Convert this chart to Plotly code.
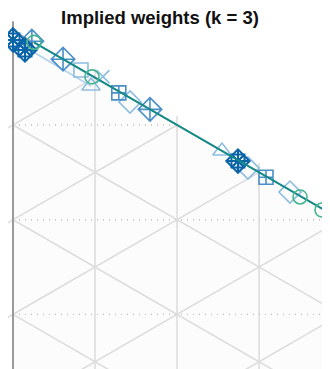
import numpy as np
import plotly.graph_objects as go

# ---------------- data: implied weights (w_b, w_c); w_a = 1 - w_b - w_c ----------------
dark_wc = [0.0, 0.0146, 0.2743]
dark_wb = [0.0102, 0.0135, 0.0009]

med_diamond_wc = [0.023, 0.061, 0.167]
med_diamond_wb = [0.0, 0.0, 0.0]

med_square_wc = [0.129, 0.3085]
med_square_wb = [0.0016, 0.001]

light_square_wc = [0.0829]
light_square_wb = [0.0004]

light_tri_wc = [0.0951, 0.2548]
light_tri_wb = [0.0112, 0.0]

light_x_wc = [0.1097]
light_x_wb = [-0.006]

light_diamond_wc = [0.1427, 0.2865, 0.3377]
light_diamond_wb = [0.0044, 0.0022, 0.002]

circle_wc = [0.0256, 0.0963, 0.350, 0.3768]
circle_wb = [0.0, 0.001, 0.001, 0.0014]

light_line_wc = [0.0, 0.0951]
light_line_wb = [0.0102, 0.0112]

path_wc = [0.0256, 0.42]
path_wb = [0.0, 0.0]

grid_step = 0.1
title_text = "Implied weights (k = 3)"

# ---------------- projection (rotated ternary, vertical left side) ----------------
SQ = np.sqrt(3) / 2


def proj(wb, wc):
    wb = np.asarray(wb, float)
    wc = np.asarray(wc, float)
    return wc * SQ, -wb - 0.5 * wc


PAGE_OFF = 8.0              # browser body margin
PX = 947.0                  # pixels per unit side length
OX, OY = 13.0 - PAGE_OFF, 30.3 - PAGE_OFF  # figure pixel position of top vertex
W, H = 322, 361
TICK = 9.0 / PX

fig = go.Figure()

GRID = "#dddddd"
AXC = "#9a9a9a"


def seg(x0, y0, x1, y1, color, width, dash=None):
    fig.add_trace(go.Scatter(x=[x0, x1], y=[y0, y1], mode="lines",
                             line=dict(color=color, width=width, dash=dash),
                             hoverinfo="skip", showlegend=False))


# triangle background
tx, ty = proj([0, 1, 0, 0], [0, 0, 1, 0])
fig.add_trace(go.Scatter(x=tx, y=ty, mode="lines", fill="toself",
                         fillcolor="#fcfcfc", line=dict(width=0),
                         hoverinfo="skip", showlegend=False))

n = int(round(1 / grid_step))
for k in range(1, n):
    v = k * grid_step
    # constant w_c (vertical lines), with tick above the top edge
    x0, y0 = proj(0, v)
    x1, y1 = proj(1 - v, v)
    seg(float(x0), float(y0) + TICK, float(x1), float(y1), GRID, 1.6)
    # constant w_b (down-right lines)
    x0, y0 = proj(v, 0)
    x1, y1 = proj(v, 1 - v)
    seg(float(x0), float(y0), float(x1), float(y1), GRID, 1.6)
    # constant w_a (up-right lines), with tick beyond the left side
    x0, y0 = proj(v, 0)
    x1, y1 = proj(0, v)
    dx, dy = x0 - x1, y0 - y1
    L = np.hypot(dx, dy)
    seg(float(x0 + dx / L * TICK), float(y0 + dy / L * TICK), float(x1), float(y1), GRID, 1.6)
    # dotted horizontal references
    seg(0.0, -v, float(2 * v * SQ), -v, "#bdbdbd", 1.4, "1px,5px")

# triangle edges
ax0, ay0 = proj(0, 0)
bx0, by0 = proj(1, 0)
cx0, cy0 = proj(0, 1)
seg(float(ax0), float(ay0) + TICK, float(bx0), float(by0), AXC, 2)
seg(float(ax0), float(ay0), float(cx0), float(cy0), "#b0b0b0", 1.5)

DARK = "#0b64a8"
MED = "#4a8fc8"
LIGHT = "#8dbce2"
TEAL = "#138a87"
GREEN = "#45b690"


def markers(wb, wc, symbol, size, color, width=1.6):
    x, y = proj(wb, wc)
    fig.add_trace(go.Scatter(x=x, y=y, mode="markers",
                             marker=dict(symbol=symbol, size=size, color=color,
                                         line=dict(color=color, width=width)),
                             hoverinfo="skip", showlegend=False))


def line(wb, wc, color, width):
    x, y = proj(wb, wc)
    fig.add_trace(go.Scatter(x=x, y=y, mode="lines",
                             line=dict(color=color, width=width),
                             hoverinfo="skip", showlegend=False))


line(light_line_wb, light_line_wc, "#b3d2ec", 1.6)
markers(light_square_wb, light_square_wc, "square-open", 14, LIGHT)
markers(light_tri_wb, light_tri_wc, "triangle-up-open", 16, LIGHT)
markers(light_x_wb, light_x_wc, "x-thin-open", 13, LIGHT)
markers(light_diamond_wb, light_diamond_wc, "diamond-open", 17, LIGHT)
markers(med_square_wb, med_square_wc, "square-cross-open", 14, MED)
markers(med_diamond_wb, med_diamond_wc, "diamond-cross-open", 18, MED)
markers(dark_wb, dark_wc, "square-x-open", 13, DARK, 2)
markers(dark_wb, dark_wc, "diamond-cross-open", 18, DARK, 2)
markers(dark_wb, dark_wc, "asterisk-open", 15, DARK, 1.8)
line(path_wb, path_wc, TEAL, 2)
markers(circle_wb, circle_wc, "circle-open", 14, GREEN)

fig.update_layout(
    width=W, height=H,
    margin=dict(l=0, r=0, t=0, b=0),
    paper_bgcolor="white", plot_bgcolor="white",
    showlegend=False,
    xaxis=dict(visible=False, range=[-OX / PX, (W - OX) / PX], fixedrange=True),
    yaxis=dict(visible=False, range=[(OY - H) / PX, OY / PX], fixedrange=True),
    title=dict(text="<b>" + title_text + "</b>", x=(160 - PAGE_OFF) / W, xref="container",
               xanchor="center", y=1 - 3.5 / H, yref="container", yanchor="top",
               font=dict(family="Liberation Sans, Arial, sans-serif", size=18.5, color="#111111")),
)

fig.write_html("out.html")
